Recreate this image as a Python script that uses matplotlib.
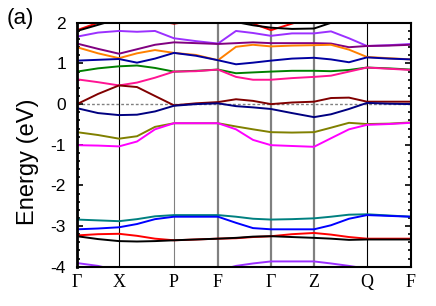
import matplotlib
matplotlib.use("Agg")
import matplotlib.pyplot as plt
import numpy as np

# k path (distance along path, arbitrary units) and labels
k = [0, 21, 42, 60, 78, 97, 119, 141, 159, 176, 194, 215, 237, 254, 272, 290, 312, 334]
k_sym = [0, 42, 97, 141, 194, 237, 290, 334]
k_labels = ["Γ", "X", "P", "F", "Γ", "Z", "Q", "F"]

# bands (eV) at the k points above
red_top = [1.82, 2.00, 2.20, 2.15, 2.05, 1.98, 2.05, 2.20, 2.10, 1.98, 1.82, 1.98, 2.15, 2.20, 2.20, 2.20, 2.20, 2.20]
black_top = [1.80, 1.95, 2.10, 2.15, 2.05, 1.99, 2.05, 2.20, 2.02, 1.94, 1.88, 1.85, 1.86, 2.00, 2.10, 2.20, 2.20, 2.20]
violet = [1.66, 1.76, 1.80, 1.78, 1.80, 1.62, 1.55, 1.49, 1.80, 1.75, 1.68, 1.74, 1.74, 1.79, 1.62, 1.43, 1.45, 1.48]
purple = [1.49, 1.36, 1.24, 1.35, 1.46, 1.52, 1.50, 1.48, 1.50, 1.52, 1.50, 1.50, 1.50, 1.49, 1.40, 1.43, 1.44, 1.46]
orange = [1.40, 1.25, 1.13, 1.25, 1.33, 1.26, 1.21, 1.08, 1.41, 1.46, 1.42, 1.44, 1.45, 1.46, 1.34, 1.16, 1.13, 1.10]
navy_top = [1.07, 1.09, 1.11, 1.02, 1.12, 1.26, 1.19, 1.08, 0.98, 1.02, 1.07, 1.12, 1.14, 1.10, 1.03, 1.15, 1.12, 1.10]
green = [0.80, 0.88, 0.93, 0.95, 0.89, 0.80, 0.82, 0.85, 0.76, 0.78, 0.80, 0.82, 0.82, 0.81, 0.84, 0.90, 0.88, 0.85]
pink = [0.61, 0.54, 0.46, 0.53, 0.65, 0.80, 0.81, 0.85, 0.67, 0.60, 0.60, 0.64, 0.67, 0.70, 0.80, 0.90, 0.87, 0.84]
maroon = [0.00, 0.25, 0.46, 0.42, 0.20, -0.03, 0.02, 0.05, 0.12, 0.08, 0.00, 0.04, 0.06, 0.15, 0.16, 0.06, 0.06, 0.06]
navy = [-0.10, -0.22, -0.27, -0.26, -0.18, -0.04, 0.00, 0.02, -0.05, -0.08, -0.12, -0.22, -0.32, -0.25, -0.12, 0.03, 0.01, 0.00]
olive = [-0.69, -0.76, -0.85, -0.79, -0.56, -0.47, -0.47, -0.47, -0.55, -0.62, -0.69, -0.70, -0.69, -0.58, -0.46, -0.49, -0.48, -0.45]
magenta = [-1.01, -1.02, -1.04, -0.92, -0.62, -0.47, -0.47, -0.47, -0.62, -0.88, -1.01, -1.03, -1.05, -0.84, -0.62, -0.51, -0.49, -0.46]
teal = [-2.84, -2.86, -2.88, -2.83, -2.76, -2.73, -2.73, -2.73, -2.77, -2.82, -2.84, -2.83, -2.81, -2.77, -2.72, -2.71, -2.74, -2.77]
blue = [-3.08, -3.06, -3.03, -2.95, -2.83, -2.77, -2.77, -2.77, -2.92, -3.05, -3.08, -3.08, -3.08, -2.98, -2.82, -2.73, -2.75, -2.77]
red = [-3.23, -3.20, -3.19, -3.24, -3.31, -3.35, -3.33, -3.31, -3.30, -3.27, -3.25, -3.20, -3.17, -3.21, -3.27, -3.31, -3.31, -3.31]
black = [-3.25, -3.32, -3.37, -3.38, -3.37, -3.35, -3.33, -3.31, -3.29, -3.26, -3.25, -3.27, -3.29, -3.31, -3.34, -3.33, -3.33, -3.33]
violet_low = [-3.91, -3.98, -4.10, -4.20, -4.20, -4.20, -4.15, -4.10, -3.98, -3.92, -3.87, -3.87, -3.87, -3.92, -3.98, -4.05, -4.10, -4.10]

bands = [
    (red_top, "#ff0000"), (black_top, "#000000"), (violet, "#9b30ff"),
    (purple, "#800080"), (orange, "#ff8000"), (navy_top, "#0000a0"),
    (green, "#008000"), (pink, "#ff1493"), (maroon, "#800000"),
    (navy, "#000080"), (olive, "#808000"), (magenta, "#ff00ff"),
    (teal, "#008080"), (blue, "#0000ff"), (red, "#ff0000"),
    (black, "#000000"), (violet_low, "#9b30ff"),
]

fig = plt.figure(figsize=(4.36, 3.06), dpi=100)
ax = fig.add_axes([0.1766, 0.1284, 0.766, 0.797])

# high symmetry lines
vstyle = {1: ("black", 0.8), 2: ("gray", 0.8), 3: ("gray", 1.6),
          4: ("gray", 1.6), 5: ("gray", 1.6), 6: ("black", 0.8)}
for i, (c, lw) in vstyle.items():
    ax.axvline(k_sym[i], color=c, lw=lw, zorder=1)
ax.axhline(0, color="gray", ls=(0, (2, 1.5)), lw=1.0, zorder=1)

for e, c in bands:
    ax.plot(k, e, color=c, lw=1.4, zorder=2)

ax.set_xlim(k_sym[0], k_sym[-1])
ax.set_ylim(-4, 2)
ax.set_xticks(k_sym)
ax.set_xticklabels(k_labels, family="Liberation Serif", fontsize=13)
ax.set_yticks(np.arange(-4, 3, 1))
ax.set_yticks(np.arange(-4, 2.01, 0.2), minor=True)
ax.set_yticklabels([str(v) for v in range(-4, 3)], family="Liberation Sans", fontsize=12.5)
ax.tick_params(axis="x", length=0, pad=5)
ax.tick_params(axis="y", which="both", direction="in", left=True, right=True, width=1.2)
ax.tick_params(axis="y", which="major", length=4, pad=8)
ax.tick_params(axis="y", which="minor", length=2.5)
for s in ax.spines.values():
    s.set_linewidth(1.5)
ax.spines["left"].set_linewidth(2)

ax.set_ylabel("Energy (eV)", family="Liberation Sans", fontsize=17)
ax.yaxis.set_label_coords(-0.115, 0.43)
fig.text(0.016, 0.975, "(a)", family="Liberation Sans", fontsize=16, va="top")

fig.savefig("out.png", dpi=100)
